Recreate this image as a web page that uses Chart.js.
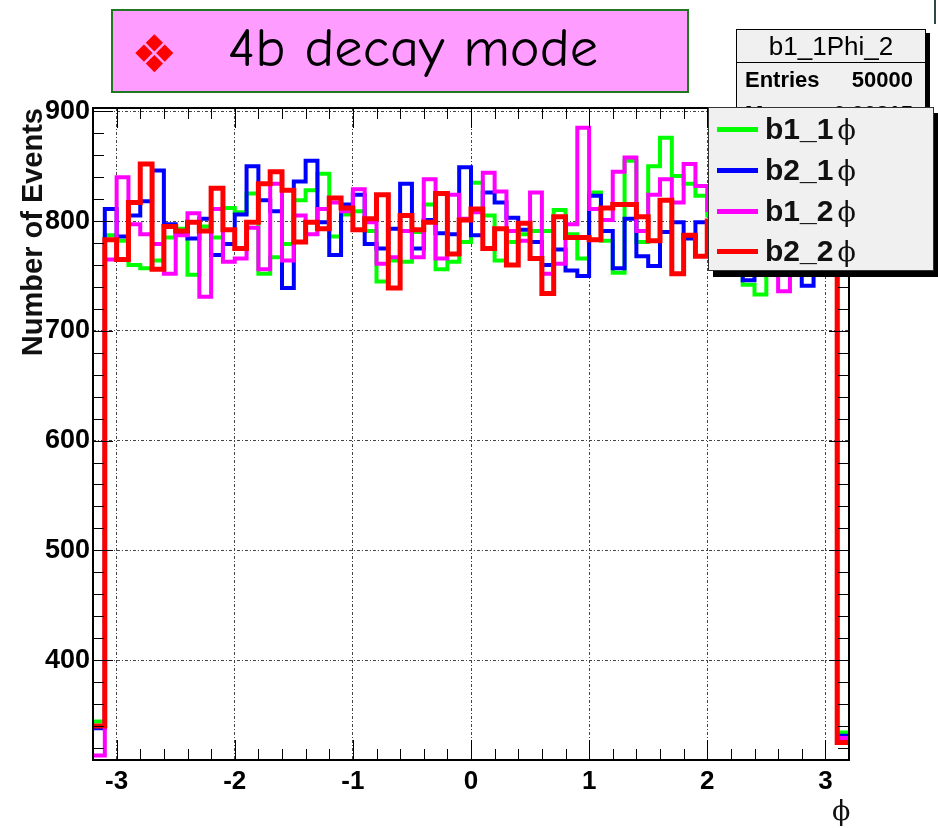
<!DOCTYPE html>
<html><head><meta charset="utf-8">
<script src="https://cdn.jsdelivr.net/npm/chart.js@4"></script>
<style>
html,body{margin:0;padding:0;background:#fff;width:938px;height:828px;overflow:hidden;position:relative;font-family:"Liberation Sans",Arial,sans-serif}
#wrap{position:absolute;left:0;top:0;width:938px;height:828px}
#titlebox{position:absolute;left:111px;top:9px;width:578px;height:84px;background:#ff9cff;border:2px solid #1f7a1f;box-sizing:border-box}
#diam{position:absolute;left:18px;top:17px;font-family:"DejaVu Sans";font-size:52px;color:#ff0000;line-height:1}
#ttext{position:absolute;left:115px;top:6px;font-family:"Comic Sans MS","Comic Neue","DejaVu Sans",sans-serif;font-size:54px;color:#000;line-height:1.2;white-space:nowrap;transform-origin:0 0}
#stats{position:absolute;left:736px;top:29px;width:190px;height:90px;background:#f0f0f0;border:1px solid #000;box-sizing:border-box;box-shadow:4px 4px 0 #000}
#stats .hd{height:32px;border-bottom:1px solid #000;text-align:center;font-size:26px;line-height:32px}
#stats .row{position:relative;height:34px;font-size:22px;font-weight:bold;line-height:34px}
#stats .row .l{position:absolute;left:8px}
#stats .row .r{position:absolute;right:12px}
#legend{position:absolute;left:708px;top:107px;width:226px;height:164px;background:#f0f0f0;border:1px solid #333;box-sizing:border-box;box-shadow:5px 6px 0 #000;z-index:5}
.le{position:absolute;left:0;height:40px;width:100%}
.le .sw{position:absolute;left:8px;top:18px;width:41px;height:5px}
.le .tx{position:absolute;left:56px;top:2px;font-size:30px;font-weight:bold;line-height:36px;white-space:nowrap;color:#111}
.le .ph{font-family:"DejaVu Serif",serif;font-weight:normal;font-size:27px;margin-left:4px}
#xtitle{position:absolute;left:832px;top:795px;font-family:"DejaVu Serif",serif;font-size:27px;color:#111}
#corner{position:absolute;left:934px;top:0;width:2px;height:24px;background:#2d4848}
</style></head>
<body>
<div id="wrap"><canvas id="c" width="938" height="828"></canvas></div>
<div id="titlebox"><span id="diam">❖</span><span id="ttext">4b decay mode</span></div>
<div id="stats"><div class="hd">b1_1Phi_2</div>
<div class="row"><span class="l">Entries</span><span class="r">50000</span></div>
<div class="row"><span class="l">Mean</span><span class="r">0.00815</span></div></div>
<div id="legend">
<div class="le" style="top:1px"><div class="sw" style="background:#00ff00"></div><div class="tx">b1_1<span class="ph">ϕ</span></div></div>
<div class="le" style="top:42px"><div class="sw" style="background:#0000ff"></div><div class="tx">b2_1<span class="ph">ϕ</span></div></div>
<div class="le" style="top:83px"><div class="sw" style="background:#ff00ff"></div><div class="tx">b1_2<span class="ph">ϕ</span></div></div>
<div class="le" style="top:123px"><div class="sw" style="background:#ff0000"></div><div class="tx">b2_2<span class="ph">ϕ</span></div></div>
</div>
<div id="xtitle">ϕ</div>
<div id="corner"></div>
<script>
// histogram binning: 64 bins from -3.2 to 3.2
const binLow = -3.2;
const binWidth = 0.1;
const xTickValues = [-3, -2, -1, 0, 1, 2, 3];
const yTickValues = [400, 500, 600, 700, 800, 900];

const b1_1 = [344,787,782,760,757,764,785,793,751,795,785,812,808,825,752,767,
              779,819,828,843,786,806,809,791,745,764,763,790,815,756,763,781,
              835,805,764,781,788,791,791,810,788,766,826,782,753,855,781,850,
              876,841,834,823,805,790,780,742,733,790,800,812,795,805,790,334];
const b2_1 = [338,811,786,805,818,846,797,788,784,802,769,779,806,850,819,809,
              739,836,855,799,769,815,824,779,775,793,834,775,801,789,788,849,
              787,826,817,803,792,781,760,774,755,750,823,791,757,802,768,759,
              790,799,784,799,795,785,800,746,790,805,795,810,741,800,790,331];
const b1_2 = [313,765,840,797,788,779,752,787,807,731,811,763,766,794,756,834,
              764,805,788,811,817,809,829,799,761,767,791,767,838,766,824,802,
              808,844,827,791,782,826,752,761,797,885,811,801,845,858,791,824,
              838,817,852,832,810,820,795,805,790,800,736,812,798,805,795,329];
const b2_2 = [340,783,765,817,852,756,795,791,799,791,830,792,775,799,834,845,
              828,781,799,793,821,812,792,802,824,739,805,792,799,825,770,801,
              811,775,793,760,798,766,734,804,785,785,783,812,815,815,804,782,
              819,752,787,768,800,790,810,795,805,790,812,798,803,792,808,325];

function histPoints(vals){
  const pts = vals.map((v,i)=>({x: +(binLow + i*binWidth).toFixed(3), y: v}));
  pts.push({x: +(binLow + vals.length*binWidth).toFixed(3), y: vals[vals.length-1]});
  return pts;
}
const FONT = '"Liberation Sans", Arial, sans-serif';

const frameTicks = {
  id: 'frameTicks',
  afterDatasetsDraw(chart){
    const {ctx, chartArea:a, scales:{x, y}} = chart;
    ctx.save();
    ctx.strokeStyle = '#000';
    ctx.lineWidth = 1;
    ctx.beginPath();
    for (let i = -16; i <= 16; i++){
      const px = Math.round(x.getPixelForValue(i*0.2)) + 0.5;
      if (px <= a.left + 1 || px >= a.right - 1) continue;
      const L = (i % 5 === 0) ? 20 : 11;
      ctx.moveTo(px, a.bottom); ctx.lineTo(px, a.bottom - L);
      ctx.moveTo(px, a.top); ctx.lineTo(px, a.top + L);
    }
    for (let i = 16; i <= 45; i++){
      const v = i*20;
      const py = Math.round(y.getPixelForValue(v)) + 0.5;
      if (py <= a.top + 1 || py >= a.bottom - 1) continue;
      const L = (v % 100 === 0) ? 20 : 11;
      ctx.moveTo(a.left, py); ctx.lineTo(a.left + L, py);
      ctx.moveTo(a.right, py); ctx.lineTo(a.right - L, py);
    }
    ctx.stroke();
    ctx.lineWidth = 2;
    ctx.strokeRect(a.left, a.top, a.right - a.left, a.bottom - a.top);
    ctx.restore();
  }
};

const mk = (label, data, color, w, order) => ({
  label, data: histPoints(data), borderColor: color, backgroundColor: color,
  borderWidth: w, stepped: 'before', pointRadius: 0, fill: false, order,
  borderJoinStyle: 'miter', borderCapStyle: 'butt', tension: 0
});

new Chart(document.getElementById('c'), {
  type: 'line',
  data: { datasets: [
    mk('b1_1 ϕ', b1_1, '#00ff00', 4, 3),
    mk('b2_1 ϕ', b2_1, '#0000ff', 4, 2),
    mk('b1_2 ϕ', b1_2, '#ff00ff', 4, 1),
    mk('b2_2 ϕ', b2_2, '#ff0000', 5, 0)
  ]},
  options: {
    responsive: false, animation: false, maintainAspectRatio: false,
    layout: { padding: { left: 0, right: 89, top: 108, bottom: 0 } },
    plugins: { legend: { display: false }, tooltip: { enabled: false } },
    scales: {
      x: {
        type: 'linear', min: -3.2, max: 3.2,
        afterBuildTicks: s => { s.ticks = xTickValues.map(v => ({value: v})); },
        afterFit: s => { s.height = 68; },
        ticks: { callback: v => String(v), font: { family: FONT, size: 26, weight: 'bold' }, color: '#000', padding: 6, maxRotation: 0, autoSkip: false },
        grid: { color: '#444', lineWidth: 1, drawTicks: false },
        border: { display: false, dash: [3, 2, 1, 2] }
      },
      y: {
        min: 309, max: 903,
        afterBuildTicks: s => { s.ticks = yTickValues.map(v => ({value: v})); },
        afterFit: s => { s.width = 93; },
        ticks: { callback: v => String(v), font: { family: FONT, size: 27, weight: 'bold' }, color: '#000', padding: 3, autoSkip: false },
        grid: { color: '#444', lineWidth: 1, drawTicks: false },
        border: { display: false, dash: [3, 2, 1, 2] },
        title: { display: true, text: 'Number of Events', align: 'end', color: '#111',
                 font: { family: FONT, size: 29, weight: 'bold' }, padding: { top: 17, bottom: 0 } }
      }
    }
  },
  plugins: [frameTicks]
});

// fit title text width to the box
const tt = document.getElementById('ttext');
const w = tt.getBoundingClientRect().width;
tt.style.transform = 'scaleX(' + (370 / w) + ')';
</script>
</body></html>
